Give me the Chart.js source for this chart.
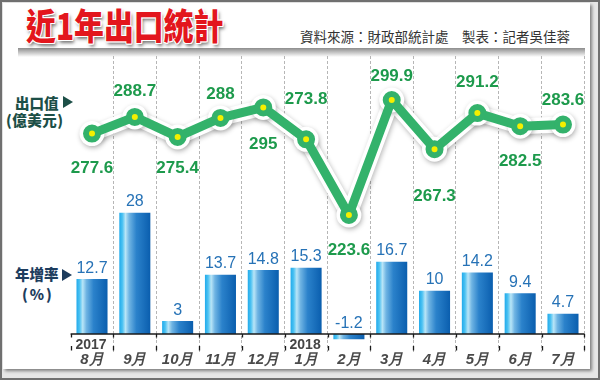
<!DOCTYPE html>
<html><head><meta charset="utf-8">
<script src="https://cdn.jsdelivr.net/npm/chart.js@4.4.1/dist/chart.umd.min.js"></script>
<style>
html,body{margin:0;padding:0;}
body{width:600px;height:380px;overflow:hidden;position:relative;background:#e6e6e6;font-family:"Noto Sans CJK TC","Noto Sans",sans-serif;}
#frame{position:absolute;left:0;top:0;width:600px;height:380px;box-sizing:border-box;border:2px solid #707070;background:#e6e6e6;}
#panel{position:absolute;left:3px;top:3px;width:587px;height:366px;background:#fff;box-shadow:2px 2px 3px rgba(0,0,0,0.45);}
#hline{position:absolute;left:18px;top:48px;width:567px;height:9px;background:linear-gradient(#8c8c8c,rgba(255,255,255,0));}
#title{position:absolute;left:26px;top:6px;font-size:36px;line-height:1;font-weight:900;color:#e3161d;white-space:nowrap;transform:scaleX(0.83);transform-origin:0 0;
 text-shadow:-1px -1px 0 #fff,1px -1px 0 #fff,-1px 1px 0 #fff,1px 1px 0 #fff,0 -1px 0 #fff,0 1px 0 #fff,-1px 0 0 #fff,1px 0 0 #fff,2px 3px 4px rgba(0,0,0,0.55);}
#source{position:absolute;left:300px;top:30px;font-size:13.5px;line-height:1;color:#333;white-space:nowrap;}
.lab{position:absolute;line-height:1;font-weight:900;white-space:nowrap;font-size:14.5px;}
.tri{position:absolute;width:0;height:0;border-top:6px solid transparent;border-bottom:6px solid transparent;border-left:10px solid;}
#wrap{position:absolute;left:0;top:0;width:600px;height:380px;}
</style></head>
<body>
<div id="frame"></div>
<div id="panel"></div>
<div id="hline"></div>
<div id="title">近1年出口統計</div>
<div id="source">資料來源：財政部統計處　製表：記者吳佳蓉</div>
<div class="lab" style="left:15px;top:95.5px;color:#1c4f47;">出口值</div>
<div class="tri" style="left:63px;top:96px;border-left-color:#1c4f47;"></div>
<div class="lab" style="left:6px;top:113px;color:#1c4f47;letter-spacing:0.5px;">(億美元)</div>
<div class="lab" style="left:15px;top:267px;color:#1d3d5e;">年增率</div>
<div class="tri" style="left:62px;top:269px;border-left-color:#1d3d5e;"></div>
<div class="lab" style="left:22px;top:287px;color:#1d3d5e;letter-spacing:2px;">(%)</div>
<div id="wrap"><canvas id="c"></canvas></div>
<script>
const categories = ['8月','9月','10月','11月','12月','1月','2月','3月','4月','5月','6月','7月'];
const yearLabels = ['2017','','','','','2018','','','','','',''];
const exportValues = [277.6,288.7,275.4,288,295,273.8,223.6,299.9,267.3,291.2,282.5,283.6];
const growthRates = [12.7,28,3,13.7,14.8,15.3,-1.2,16.7,10,14.2,9.4,4.7];

const lineLabelDy = [33,-27,30,-25,36,-41,34,-25,46,-32,34,-26];
const GREEN = '#33b26b', LABEL_GREEN = '#1d9a4c', BLUE_TEXT = '#2672b6';
const BAR_PCT = 0.725;

function barGradient(c){
  if (c.type !== 'data') return '#1a7fd0';
  const chart = c.chart, sx = chart.scales.x;
  if (!chart.chartArea || !sx) return '#1a7fd0';
  const x = sx.getPixelForValue(c.dataIndex);
  const w = sx.width / categories.length * BAR_PCT;
  const g = chart.ctx.createLinearGradient(x - w/2, 0, x + w/2, 0);
  g.addColorStop(0, '#20aaeb');
  g.addColorStop(0.1, '#4cc2f2');
  g.addColorStop(0.2, '#b9e5f7');
  g.addColorStop(0.32, '#6fb4e3');
  g.addColorStop(0.55, '#2b82cb');
  g.addColorStop(1, '#0a5eae');
  return g;
}

const decor = {
  id: 'decor',
  beforeDatasetDraw(chart, args){
    if (args.index === 1){
      const ctx = chart.ctx; ctx.save();
      ctx.shadowColor = 'rgba(0,0,0,0.28)'; ctx.shadowBlur = 5; ctx.shadowOffsetX = 1; ctx.shadowOffsetY = 2;
    }
  },
  afterDatasetDraw(chart, args){
    if (args.index === 1) chart.ctx.restore();
  },
  afterDraw(chart){
    const ctx = chart.ctx, sx = chart.scales.x, sy = chart.scales.y;
    const left = chart.chartArea.left, right = chart.chartArea.right;
    const cw = (right - left) / categories.length;
    const y0 = sy.getPixelForValue(0);
    ctx.save();
    // axis line
    ctx.strokeStyle = '#1a1a1a'; ctx.lineWidth = 1.5;
    ctx.beginPath(); ctx.moveTo(left, y0); ctx.lineTo(right, y0); ctx.stroke();
    ctx.lineWidth = 1.3;
    for (let i = 0; i <= categories.length; i++){
      const bx = Math.round(left + i*cw) + 0.5;
      ctx.beginPath(); ctx.moveTo(bx, y0); ctx.lineTo(bx, y0 + 3.5); ctx.stroke();
      ctx.beginPath(); ctx.moveTo(bx, 346); ctx.lineTo(bx, 350.5); ctx.stroke();
    }
    // year labels
    ctx.fillStyle = '#454545'; ctx.font = 'bold 14px Arial, "Liberation Sans"';
    ctx.textAlign = 'center'; ctx.textBaseline = 'alphabetic';
    yearLabels.forEach((t, i) => { if (t) ctx.fillText(t, sx.getPixelForValue(i) - 1, 349); });
    // bar labels
    const bm = chart.getDatasetMeta(0);
    ctx.fillStyle = BLUE_TEXT; ctx.font = '16px Arial, "Liberation Sans"';
    bm.data.forEach((el, i) => {
      const v = growthRates[i];
      const top = v >= 0 ? el.y : el.base;
      ctx.fillText(String(v), el.x, top - 12 + 5.7);
    });
    // line labels
    const lm = chart.getDatasetMeta(2);
    ctx.fillStyle = LABEL_GREEN; ctx.font = 'bold 17px Arial, "Liberation Sans"';
    lm.data.forEach((el, i) => {
      ctx.fillText(String(exportValues[i]), el.x, el.y + lineLabelDy[i] + 6.1);
    });
    ctx.restore();
  }
};

const gridColor = c => (c.index === 0 || c.index === categories.length) ? 'rgba(0,0,0,0)' : '#a3a3a3';

new Chart(document.getElementById('c'), {
  type: 'bar',
  data: {
    labels: categories,
    datasets: [
      { type:'bar', data: growthRates, yAxisID:'y', backgroundColor: barGradient, borderWidth:0,
        barPercentage: BAR_PCT, categoryPercentage: 1, order: 3 },
      { type:'line', data: exportValues, yAxisID:'y1', borderColor:'#ffffff', borderWidth:16,
        borderJoinStyle:'round', borderCapStyle:'round', tension:0, pointRadius:12.5,
        pointBackgroundColor:'#ffffff', pointBorderWidth:0, pointHoverRadius:12.5, clip:false, order: 2 },
      { type:'line', data: exportValues, yAxisID:'y1', borderColor:GREEN, borderWidth:9,
        borderJoinStyle:'round', borderCapStyle:'round', tension:0, pointRadius:6,
        pointBackgroundColor:'#f5ef00', pointBorderColor:GREEN, pointBorderWidth:6, pointHoverRadius:6,
        clip:false, order: 1 }
    ]
  },
  options: {
    responsive: true, maintainAspectRatio: false, animation: false, events: [],
    layout: { padding: { left: 70.6, right: 15.6, top: 56, bottom: 0 } },
    plugins: { legend: { display:false }, tooltip: { enabled:false } },
    scales: {
      x: {
        offset: true,
        grid: { offset:true, color: gridColor, tickColor: gridColor, lineWidth: 0.8, tickWidth: 0.8,
                drawTicks: true, tickLength: 12, tickBorderDash: [3,2] },
        border: { display:false, dash:[3,2] },
        ticks: { color:'#4a4a4a', padding:-1, maxRotation:0, autoSkip:false,
                 font: { family:'Arial, "Liberation Sans"', size:15, weight:'bold', style:'italic' } },
        afterFit: s => { s.height = 40; }
      },
      y: { display:false, min:-1.386, max:64.2 },
      y1: { display:false, min:140.64, max:329.1 }
    }
  },
  plugins: [decor]
});
</script>
</body></html>
